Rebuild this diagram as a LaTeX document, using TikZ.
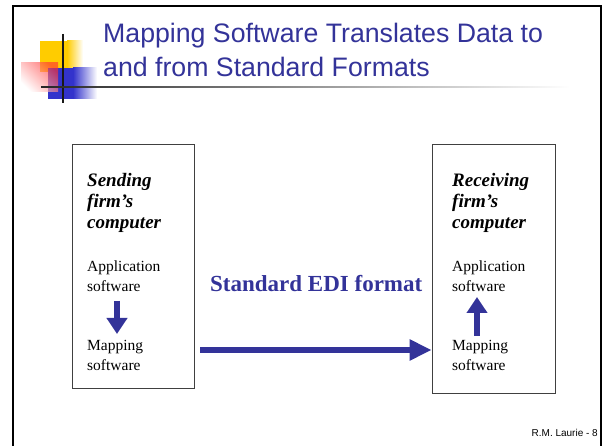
\documentclass[tikz,border=0pt]{standalone}
\usepackage{fontspec}
\setmainfont{Liberation Serif}
\newfontfamily\arialf{Liberation Sans}
\newfontfamily\titlef{Liberation Sans}
\usetikzlibrary{arrows.meta}
\definecolor{slideblue}{HTML}{333399}
\definecolor{decoyellow}{HTML}{FFCC00}
\definecolor{decoblue}{HTML}{3333CC}
\definecolor{decored}{HTML}{FF3333}
\tikzset{
  boxframe/.style={draw=black!75, line width=0.8pt},
  headtxt/.style={anchor=base west, inner sep=0pt, font=\fontsize{19}{19}\selectfont\bfseries\itshape},
  bodytxt/.style={anchor=base west, inner sep=0pt, font=\fontsize{15.5}{15.5}\selectfont},
  bigarrow/.style={draw=slideblue, line width=6pt, -{Triangle[length=22pt,width=20pt]}},
  smallarrow/.style={draw=slideblue, line width=6pt, -{Triangle[length=16pt,width=20pt]}},
  titletxt/.style={anchor=base west, inner sep=0pt, text=slideblue, font=\fontsize{26.7}{26.7}\titlef}
}
\begin{document}
\begin{tikzpicture}[x=1pt,y=-1pt]
\useasboundingbox (0,0) rectangle (603,446);
\fill[white] (0,0) rectangle (603,446);
% slide frame
\draw[black, line width=2pt] (13,450) -- (13,6) -- (601,6) -- (601,450);
% decoration squares
\fill[decoyellow] (40,41) rectangle (67,72);
\shade[left color=decoyellow, right color=white] (67,41) rectangle (83,72);
\fill[decoblue] (48,68) rectangle (73,99);
\shade[left color=decoblue, right color=white] (73,68) rectangle (97,99);
\shade[shading=axis, top color=decored, bottom color=white, shading angle=-45, opacity=0.65] (21,63) rectangle (58,92);
\draw[black!90, line width=1.2pt] (63,34) -- (63,103);
\shade[left color=black!85, right color=white] (41,86.2) rectangle (570,87.8);
% title
\node[titletxt] (t1) at (103,43) {Mapping Software Translates Data to};
\node[titletxt] (t2) at (103,77) {and from Standard Formats};
% boxes
\node[boxframe, minimum width=122pt, minimum height=244pt, inner sep=0pt] (lbox) at (133.5,266) {};
\node[boxframe, minimum width=123pt, minimum height=249pt, inner sep=0pt] (rbox) at (493.5,268.5) {};
% left texts
\node[headtxt] (s1) at (87,187) {Sending};
\node[headtxt] (s2) at (87,208) {firm’s};
\node[headtxt] (s3) at (87,229) {computer};
\node[bodytxt] (la1) at (87,272) {Application};
\node[bodytxt] (la2) at (87,292) {software};
\node[bodytxt] (lm1) at (87,351) {Mapping};
\node[bodytxt] (lm2) at (87,371) {software};
\coordinate (ld1) at (117,301);
\coordinate (ld2) at (117,334);
\draw[smallarrow] (ld1) -- (ld2);
% right texts
\node[headtxt] (r1) at (452,187) {Receiving};
\node[headtxt] (r2) at (452,208) {firm’s};
\node[headtxt] (r3) at (452,229) {computer};
\node[bodytxt] (ra1) at (452,272) {Application};
\node[bodytxt] (ra2) at (452,292) {software};
\node[bodytxt] (rm1) at (452,351) {Mapping};
\node[bodytxt] (rm2) at (452,371) {software};
\coordinate (ru1) at (477,336);
\coordinate (ru2) at (477,297);
\draw[smallarrow] (ru1) -- (ru2);
% middle
\node[anchor=base west, inner sep=0pt, text=slideblue, font=\fontsize{23}{23}\selectfont\bfseries] (edi) at (210,292) {Standard EDI format};
\coordinate (ma) at (200,350);
\draw[bigarrow] (ma) -- (rbox.west |- ma);
% footer
\node[anchor=base east, inner sep=0pt, font=\fontsize{10}{10}\arialf] (ft) at (598,437) {R.M. Laurie - 8};
\end{tikzpicture}
\end{document}
